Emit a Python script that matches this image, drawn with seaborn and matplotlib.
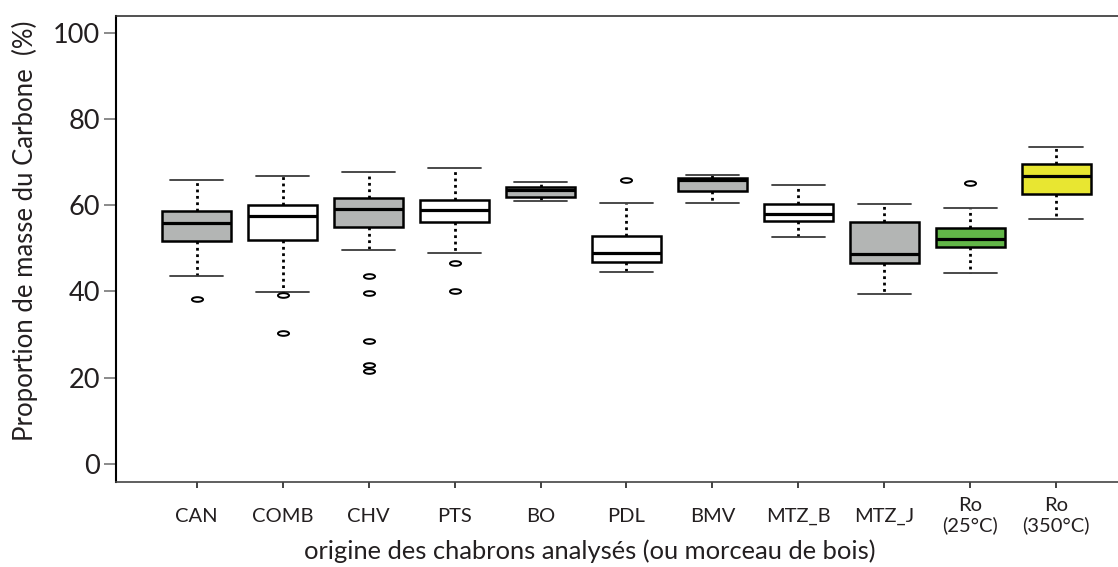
import numpy as np
import pandas as pd
import matplotlib
matplotlib.use("Agg")
import matplotlib.pyplot as plt
import seaborn as sns
from matplotlib.path import Path
from matplotlib.transforms import Affine2D

# ---------------- data ----------------
categories = ['CAN', 'COMB', 'CHV', 'PTS', 'BO', 'PDL', 'BMV', 'MTZ_B', 'MTZ_J',
              'Ro\n(25°C)', 'Ro\n(350°C)']
whisker_low = [43.6, 39.9, 49.7, 49.0, 60.9, 44.5, 60.6, 52.6, 39.5, 44.3, 56.8]
quart_1     = [51.8, 51.9, 55.0, 56.2, 61.8, 46.8, 63.3, 56.4, 46.6, 50.4, 62.6]
medians     = [55.9, 57.4, 59.2, 58.9, 63.6, 49.0, 65.9, 57.9, 48.8, 52.2, 66.7]
quart_3     = [58.6, 60.1, 61.6, 61.3, 64.3, 52.9, 66.3, 60.2, 56.1, 54.7, 69.5]
whisker_high = [65.8, 66.8, 67.7, 68.6, 65.5, 60.6, 67.0, 64.7, 60.3, 59.4, 73.4]
outlier_cats = ['CAN', 'COMB', 'COMB', 'CHV', 'CHV', 'CHV', 'CHV', 'CHV',
                'PTS', 'PTS', 'PDL', 'Ro\n(25°C)']
outlier_vals = [38.3, 39.1, 30.3, 43.6, 39.6, 28.4, 23.0, 21.6,
                46.6, 40.0, 65.8, 65.1]
y_ticks = [0, 20, 40, 60, 80, 100]

GRAY, WHITE, GREEN, YELLOW = '#b3b5b4', '#ffffff', '#62b648', '#e8e631'
box_colors = [GRAY, WHITE, GRAY, WHITE, GRAY, WHITE, GRAY, WHITE, GRAY, GREEN, YELLOW]

# five-number summaries -> long table for seaborn
rows = []
for c, a, b, m, d, e in zip(categories, whisker_low, quart_1, medians, quart_3, whisker_high):
    for v in (a, b, m, d, e):
        rows.append((c, v))
df_box = pd.DataFrame(rows, columns=['cat', 'val'])
df_out = pd.DataFrame({'cat': outlier_cats, 'val': outlier_vals})

# ---------------- figure ----------------
sns.set_theme(style='white')
TXT = '#231f20'
plt.rcParams['font.family'] = ['Lato', 'DejaVu Sans']
plt.rcParams['text.color'] = TXT

W, H = 1118, 567
fig = plt.figure(figsize=(W / 100, H / 100), dpi=100)
ax = fig.add_axes([116 / W, 1 - 482 / H, 1 - 116 / W, (482 - 16) / H])

sns.boxplot(data=df_box, x='cat', y='val', hue='cat', order=categories,
            hue_order=categories, palette=box_colors, saturation=1, legend=False,
            whis=(0, 100), width=0.8, showfliers=False,
            linecolor='black', linewidth=1.8,
            boxprops=dict(edgecolor='black', linewidth=1.8),
            medianprops=dict(color='black', linewidth=2.3),
            whiskerprops=dict(color='black', linestyle=(0, (1, 1.3)), linewidth=2.0),
            capprops=dict(color='#3a3a3a', linewidth=1.3),
            capwidths=0.62, ax=ax)

ell = Affine2D().scale(1.0, 0.42).transform_path(Path.unit_circle())
sns.stripplot(data=df_out, x='cat', y='val', order=categories, jitter=False,
              marker=ell, size=8, color='white', edgecolor='black',
              linewidth=1.4, ax=ax, zorder=5)

ax.set_xlim(-0.94, 10.72)
ax.set_ylim(-4.2, 103.9)
ax.set_yticks(y_ticks)
ax.set_yticklabels([str(t) for t in y_ticks])

ax.spines['left'].set_color('black'); ax.spines['left'].set_linewidth(1.5)
ax.spines['bottom'].set_color('#444444'); ax.spines['bottom'].set_linewidth(1.2)
ax.spines['top'].set_color('#333333'); ax.spines['top'].set_linewidth(1.2)
ax.spines['right'].set_visible(False)

ax.tick_params(axis='y', direction='out', length=8.5, width=1.2, color='#777777',
               labelsize=19.5, labelcolor=TXT, pad=3, left=True)
ax.tick_params(axis='x', direction='out', length=4.5, width=1.2, color='#222222',
               labelsize=14.5, labelcolor=TXT, pad=20, bottom=True)
for lab in ax.get_xticklabels():
    lab.set_verticalalignment('center')
    lab.set_linespacing(1.15)

ax.set_xlabel('origine des chabrons analysés (ou morceau de bois)', fontsize=17,
              color=TXT, va='center')
ax.xaxis.set_label_coords(0.473, -0.148)
ax.set_ylabel('Proportion de masse du Carbone  (%)', fontsize=17, color=TXT, va='center')
ax.yaxis.set_label_coords(-0.091, 0.54)

# fit label sizes to the reference extents (pixels)
fig.canvas.draw()
r = fig.canvas.get_renderer()
def fit(t, target, dim='w'):
    bb = t.get_window_extent(r)
    cur = bb.width if dim == 'w' else bb.height
    t.set_fontsize(t.get_fontsize() * target / cur)
fit(ax.xaxis.label, 570, 'w')
fit(ax.yaxis.label, 419, 'h')
fig.canvas.draw()

fig.savefig('out.png', dpi=100)
